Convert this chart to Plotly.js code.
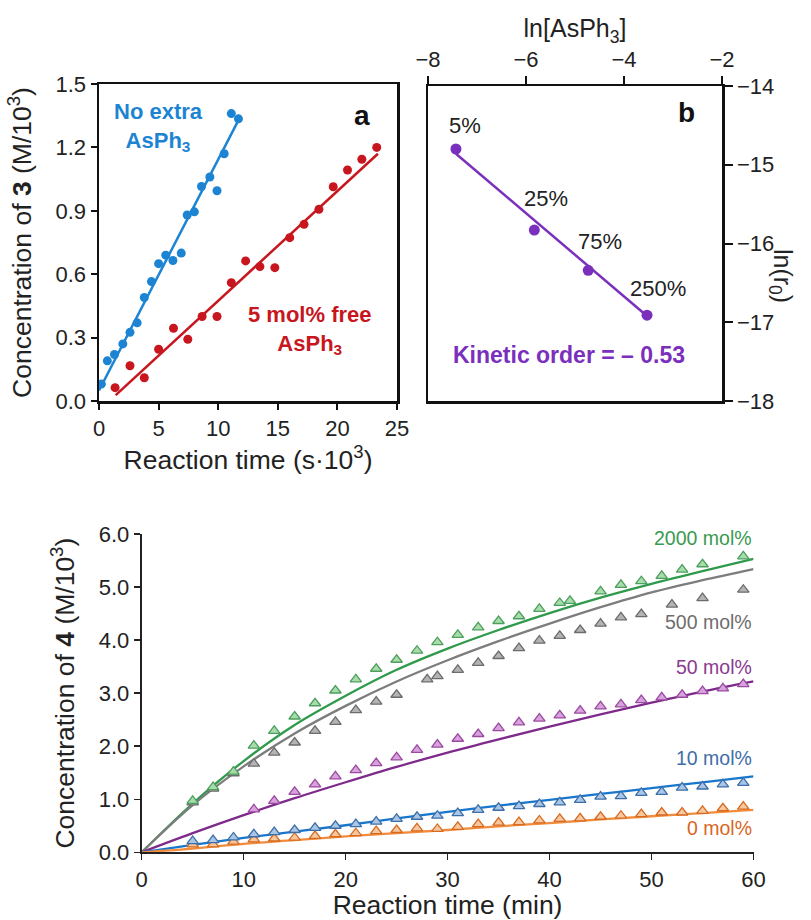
<!DOCTYPE html>
<html>
<head>
<meta charset="utf-8">
<script src="https://cdn.plot.ly/plotly-3.0.1.min.js"></script>
<style>html,body{margin:0;padding:0;background:#fff;}#chart{width:811px;height:920px;}</style>
</head>
<body>
<div id="chart"></div>
<script>
// ---------- Panel a : concentration of 3 vs time ----------
const aBlueT = [0.2, 0.7, 1.3, 2.0, 2.6, 3.2, 3.8, 4.4, 5.0, 5.6, 6.2, 6.9, 7.4, 8.0, 8.6, 9.3, 9.9, 10.5, 11.1, 11.7];
const aBlueC = [0.08, 0.19, 0.22, 0.27, 0.325, 0.37, 0.49, 0.565, 0.65, 0.69, 0.665, 0.70, 0.88, 0.895, 1.015, 1.06, 0.995, 1.17, 1.36, 1.335];
const aBlueFitT = [0.0, 11.8];
const aBlueFitC = [0.05, 1.34];
const aRedT = [1.35, 2.6, 3.8, 5.0, 6.25, 7.45, 8.65, 9.9, 11.1, 12.3, 13.5, 14.75, 16.0, 17.2, 18.45, 19.65, 20.85, 22.05, 23.3];
const aRedC = [0.063, 0.167, 0.11, 0.245, 0.344, 0.292, 0.40, 0.40, 0.56, 0.663, 0.636, 0.631, 0.773, 0.836, 0.907, 1.014, 1.093, 1.144, 1.20];
const aRedFitT = [1.4, 23.4];
const aRedFitC = [0.028, 1.17];

// ---------- Panel b : ln(r0) vs ln[AsPh3] ----------
const bLnAs = [-7.43, -5.83, -4.73, -3.53];
const bLnR0 = [-14.80, -15.83, -16.34, -16.91];
const bLabels = ['5%', '25%', '75%', '250%'];
const bFitX = [-7.43, -3.53];
const bFitY = [-14.86, -16.92];

// ---------- Panel c : concentration of 4 vs time ----------
const cFitT = [0, 5, 10, 15, 20, 25, 30, 35, 40, 45, 50, 55, 60];
const c2000Fit = [0, 0.92, 1.72, 2.40, 2.95, 3.44, 3.84, 4.19, 4.51, 4.80, 5.06, 5.30, 5.53];
const c500Fit  = [0, 0.89, 1.62, 2.24, 2.76, 3.22, 3.62, 3.98, 4.31, 4.62, 4.90, 5.13, 5.34];
const c50Fit   = [0, 0.36, 0.70, 1.02, 1.32, 1.61, 1.88, 2.13, 2.37, 2.60, 2.82, 3.03, 3.22];
const c10Fit   = [0, 0.14, 0.27, 0.39, 0.51, 0.64, 0.76, 0.88, 0.99, 1.10, 1.21, 1.32, 1.43];
const c0Fit    = [0, 0.07, 0.16, 0.23, 0.30, 0.36, 0.42, 0.49, 0.55, 0.62, 0.68, 0.74, 0.80];

const c2000T = [5, 7, 9, 11, 13, 15, 17, 19, 21, 23, 25, 27, 29, 31, 33, 35, 37, 39, 41, 42, 45, 47, 49, 51, 53, 55, 59];
const c2000C = [0.97, 1.23, 1.52, 2.01, 2.29, 2.56, 2.81, 3.05, 3.26, 3.46, 3.63, 3.80, 3.96, 4.10, 4.24, 4.36, 4.45, 4.59, 4.70, 4.74, 4.92, 5.04, 5.11, 5.21, 5.33, 5.43, 5.58];
const c500T = [5, 7, 9, 11, 13, 15, 17, 19, 21, 23, 25, 28, 29, 31, 33, 35, 37, 39, 41, 43, 45, 47, 49, 52, 55, 59];
const c500C = [0.94, 1.20, 1.49, 1.67, 1.88, 2.07, 2.29, 2.46, 2.68, 2.84, 2.97, 3.26, 3.32, 3.44, 3.57, 3.70, 3.85, 3.99, 4.08, 4.19, 4.31, 4.43, 4.49, 4.67, 4.79, 4.95];
const c50T = [11, 13, 15, 17, 19, 21, 23, 25, 27, 29, 31, 33, 35, 37, 39, 41, 43, 45, 47, 49, 51, 53, 55, 57, 59];
const c50C = [0.81, 0.97, 1.14, 1.28, 1.43, 1.55, 1.68, 1.79, 1.93, 2.03, 2.14, 2.23, 2.34, 2.45, 2.52, 2.58, 2.67, 2.75, 2.79, 2.87, 2.92, 2.97, 3.04, 3.09, 3.17];
const c10T = [5, 7, 9, 11, 13, 15, 17, 19, 21, 23, 25, 27, 29, 31, 33, 35, 37, 39, 41, 43, 45, 47, 49, 51, 53, 55, 57, 59];
const c10C = [0.21, 0.23, 0.28, 0.34, 0.38, 0.42, 0.46, 0.50, 0.53, 0.58, 0.63, 0.67, 0.69, 0.74, 0.80, 0.84, 0.87, 0.91, 0.94, 0.99, 1.05, 1.06, 1.12, 1.14, 1.22, 1.24, 1.28, 1.31];
const c0T = [5, 7, 9, 11, 13, 15, 17, 19, 21, 23, 25, 27, 29, 31, 33, 35, 37, 39, 41, 43, 45, 47, 49, 51, 53, 55, 57, 59];
const c0C = [0.15, 0.15, 0.20, 0.245, 0.26, 0.275, 0.31, 0.34, 0.36, 0.40, 0.42, 0.45, 0.44, 0.48, 0.53, 0.56, 0.57, 0.60, 0.63, 0.64, 0.67, 0.69, 0.72, 0.75, 0.75, 0.78, 0.83, 0.86];
const cSeriesNames = ['2000 mol%', '500 mol%', '50 mol%', '10 mol%', '0 mol%'];

// ---------- styles ----------
const FONT = 'Liberation Sans, Arial, Helvetica, sans-serif';
const BLUE_A = '#1c84d2', RED_A = '#c8161e', PURPLE_B = '#7a30bd';
const cStyles = [
  {line: '#2f9a4c', fill: '#a9dcab', edge: '#4c9f5e', text: '#3a9a50'},
  {line: '#7d7d7d', fill: '#b4b4b4', edge: '#6c6c6c', text: '#6e6e6e'},
  {line: '#7e2a8a', fill: '#d8a2dc', edge: '#9a4aa0', text: '#8a3a90'},
  {line: '#1877cc', fill: '#a9c6e6', edge: '#3d6ea8', text: '#3d6ea8'},
  {line: '#f28c3c', fill: '#f7c8a0', edge: '#d56a20', text: '#d9661f'}
];
const cFits = [c2000Fit, c500Fit, c50Fit, c10Fit, c0Fit];
const cTs = [c2000T, c500T, c50T, c10T, c0T];
const cCs = [c2000C, c500C, c50C, c10C, c0C];
const cLabelY = [5.93, 4.35, 3.50, 1.77, 0.45];

const traces = [];
// panel a
traces.push({x: aBlueFitT, y: aBlueFitC, mode: 'lines', line: {color: BLUE_A, width: 2.5}, xaxis: 'x', yaxis: 'y', hoverinfo: 'skip', showlegend: false});
traces.push({x: aRedFitT, y: aRedFitC, mode: 'lines', line: {color: RED_A, width: 2.5}, xaxis: 'x', yaxis: 'y', hoverinfo: 'skip', showlegend: false});
traces.push({x: aBlueT, y: aBlueC, mode: 'markers', marker: {color: BLUE_A, size: 9}, xaxis: 'x', yaxis: 'y', name: 'No extra AsPh3', showlegend: false});
traces.push({x: aRedT, y: aRedC, mode: 'markers', marker: {color: RED_A, size: 9}, xaxis: 'x', yaxis: 'y', name: '5 mol% free AsPh3', showlegend: false});
// panel b
traces.push({x: bFitX, y: bFitY, mode: 'lines', line: {color: PURPLE_B, width: 2.5}, xaxis: 'x2', yaxis: 'y2', hoverinfo: 'skip', showlegend: false});
traces.push({x: bLnAs, y: bLnR0, mode: 'markers', marker: {color: PURPLE_B, size: 11}, xaxis: 'x2', yaxis: 'y2', text: bLabels, showlegend: false});
// panel c
for (let i = 0; i < 5; i++) {
  traces.push({x: cFitT, y: cFits[i], mode: 'lines', line: {color: cStyles[i].line, width: 2.3, shape: 'spline', smoothing: 1.0}, xaxis: 'x3', yaxis: 'y3', hoverinfo: 'skip', showlegend: false});
}
for (let i = 4; i >= 0; i--) {
  traces.push({x: cTs[i], y: cCs[i], mode: 'markers', name: cSeriesNames[i],
    marker: {symbol: 'triangle-up', size: 10, color: cStyles[i].fill, line: {color: cStyles[i].edge, width: 1.3}},
    xaxis: 'x3', yaxis: 'y3', showlegend: false, cliponaxis: false});
}

const annotations = [];
// panel a labels
annotations.push({xref: 'x', yref: 'y', x: 4.95, y: 1.295, text: '<b>No extra<br>AsPh<sub>3</sub></b>', showarrow: false, font: {family: FONT, size: 22, color: BLUE_A}, align: 'center'});
annotations.push({xref: 'x', yref: 'y', x: 17.7, y: 0.336, text: '<b>5 mol% free<br>AsPh<sub>3</sub></b>', showarrow: false, font: {family: FONT, size: 22, color: RED_A}, align: 'center'});
annotations.push({xref: 'x', yref: 'y', x: 22.06, y: 1.35, text: '<b>a</b>', showarrow: false, font: {family: FONT, size: 28, color: '#111'}});
// panel b labels
const bLabelX = [-7.25, -5.60, -4.49, -3.31];
const bLabelY = [-14.50, -15.43, -15.98, -16.57];
for (let i = 0; i < bLabels.length; i++) {
  annotations.push({xref: 'x2', yref: 'y2', x: bLabelX[i], y: bLabelY[i], text: bLabels[i], showarrow: false, font: {family: FONT, size: 22, color: '#222'}});
}
annotations.push({xref: 'x2', yref: 'y2', x: -5.12, y: -17.42, text: '<b>Kinetic order = – 0.53</b>', showarrow: false, font: {family: FONT, size: 23, color: PURPLE_B}});
annotations.push({xref: 'x2', yref: 'y2', x: -2.73, y: -14.34, text: '<b>b</b>', showarrow: false, font: {family: FONT, size: 28, color: '#111'}});
annotations.push({xref: 'paper', yref: 'paper', x: 799 / 811, y: 1 - 247 / 920, text: 'ln(r<sub>0</sub>)', textangle: 90, showarrow: false, font: {family: FONT, size: 25, color: '#222'}});
// panel c labels
for (let i = 0; i < 5; i++) {
  annotations.push({xref: 'x3', yref: 'y3', x: 60, y: cLabelY[i], xanchor: 'right', text: cSeriesNames[i], showarrow: false, font: {family: FONT, size: 19.5, color: cStyles[i].text}});
}

const axBase = {showgrid: false, zeroline: false, ticks: 'outside', linecolor: '#111', tickcolor: '#111', tickfont: {family: FONT, size: 22, color: '#222'}, fixedrange: true};

const layout = {
  width: 811, height: 920,
  margin: {l: 0, r: 0, t: 0, b: 0},
  paper_bgcolor: '#fff', plot_bgcolor: 'rgba(0,0,0,0)',
  font: {family: FONT, color: '#222'},
  showlegend: false,
  xaxis: Object.assign({}, axBase, {domain: [99 / 811, 397 / 811], anchor: 'y', range: [0, 25], dtick: 5, tick0: 0, ticklen: 6, linewidth: 2.5, tickwidth: 2, mirror: true,
    title: {text: 'Reaction time (s·10<sup>3</sup>)', font: {family: FONT, size: 26.5, color: '#222'}, standoff: 6}}),
  yaxis: Object.assign({}, axBase, {domain: [1 - 401 / 920, 1 - 84 / 920], anchor: 'x', range: [0, 1.5], dtick: 0.3, tick0: 0, tickformat: '.1f', ticklen: 6, linewidth: 2.5, tickwidth: 2, mirror: true,
    title: {text: 'Concentration of <b>3</b> (M/10<sup>3</sup>)', font: {family: FONT, size: 26.5, color: '#222'}, standoff: 16}}),
  xaxis2: Object.assign({}, axBase, {domain: [428 / 811, 722 / 811], anchor: 'y2', side: 'top', range: [-8, -2], dtick: 2, tick0: -8, ticklen: 8, linewidth: 2.5, tickwidth: 2, mirror: true,
    title: {text: 'ln[AsPh<sub>3</sub>]', font: {family: FONT, size: 25, color: '#222'}, standoff: 0}}),
  yaxis2: Object.assign({}, axBase, {domain: [1 - 401 / 920, 1 - 86 / 920], anchor: 'x2', side: 'right', range: [-18, -14], dtick: 1, tick0: -18, ticklen: 8, linewidth: 2.5, tickwidth: 2, mirror: true}),
  xaxis3: Object.assign({}, axBase, {domain: [141.7 / 811, 753.5 / 811], anchor: 'y3', range: [0, 60], dtick: 10, tick0: 0, ticklen: 6, linewidth: 2, tickwidth: 1.5, linecolor: '#222', tickcolor: '#222',
    title: {text: 'Reaction time (min)', font: {family: FONT, size: 26.5, color: '#222'}, standoff: 6}}),
  yaxis3: Object.assign({}, axBase, {domain: [1 - 852.3 / 920, 1 - 534 / 920], anchor: 'x3', range: [0, 6], dtick: 1, tick0: 0, tickformat: '.1f', ticklen: 6, linewidth: 2, tickwidth: 1.5, linecolor: '#222', tickcolor: '#222',
    title: {text: 'Concentration of <b>4</b> (M/10<sup>3</sup>)', font: {family: FONT, size: 26.5, color: '#222'}, standoff: 16}}),
  annotations: annotations
};

Plotly.newPlot('chart', traces, layout, {staticPlot: true, displayModeBar: false});
</script>
</body>
</html>
